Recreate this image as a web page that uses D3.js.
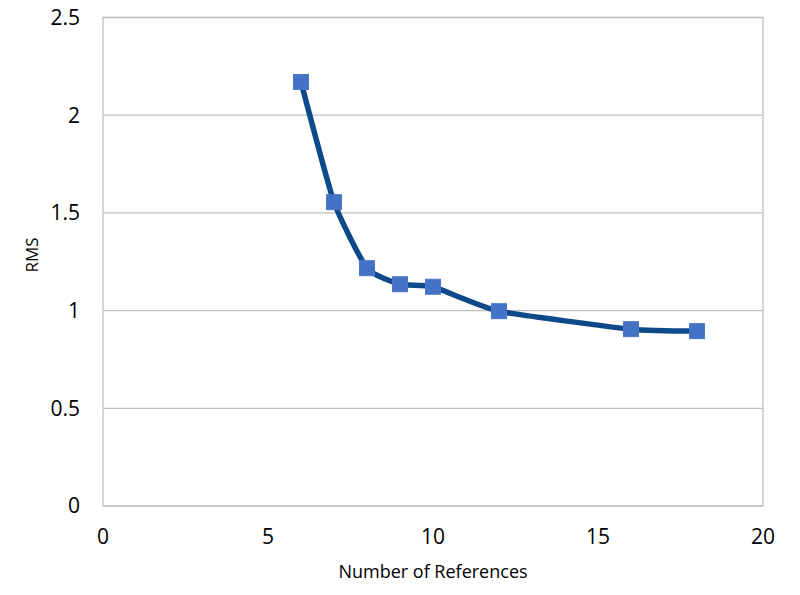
<!DOCTYPE html>
<html>
<head>
<meta charset="utf-8">
<script src="https://cdn.jsdelivr.net/npm/d3@7"></script>
<style>
  body { margin: 0; background: #fff; }
  text { font-family: "Open Sans", "Liberation Sans", sans-serif; fill: #000; }
</style>
</head>
<body>
<div id="chart"></div>
<script>
var refs = [6, 7, 8, 9, 10, 12, 16, 18];
var rms = [2.17, 1.555, 1.217, 1.135, 1.122, 0.997, 0.905, 0.895];
var xTicks = [0, 5, 10, 15, 20];
var yTicks = [0, 0.5, 1, 1.5, 2, 2.5];

var width = 800,
    height = 595,
    plotL = 103, plotR = 763, plotT = 17.5, plotB = 506;

var svg = d3.select("#chart").append("svg")
    .attr("width", width)
    .attr("height", height);

var x = d3.scaleLinear().domain([0, 20]).range([plotL, plotR]);
var y = d3.scaleLinear().domain([0, 2.5]).range([plotB, plotT]);

// gridlines
svg.append("g").selectAll("line")
    .data(yTicks)
  .enter().append("line")
    .attr("x1", plotL).attr("x2", plotR)
    .attr("y1", function(d) { return y(d); })
    .attr("y2", function(d) { return y(d); })
    .attr("stroke", "#c0c0c0")
    .attr("stroke-width", 1.3);

// plot border
svg.append("rect")
    .attr("x", plotL).attr("y", plotT)
    .attr("width", plotR - plotL).attr("height", plotB - plotT)
    .attr("fill", "none")
    .attr("stroke", "#c0c0c0")
    .attr("stroke-width", 1.3);

// tick labels
svg.append("g").selectAll("text")
    .data(yTicks)
  .enter().append("text")
    .attr("x", plotL - 23)
    .attr("y", function(d) { return y(d); })
    .attr("dy", "0.35em")
    .attr("text-anchor", "end")
    .style("font-size", "21px")
    .text(function(d) { return d; });

svg.append("g").selectAll("text")
    .data(xTicks)
  .enter().append("text")
    .attr("x", function(d) { return x(d); })
    .attr("y", plotB + 31)
    .attr("dy", "0.35em")
    .attr("text-anchor", "middle")
    .style("font-size", "21px")
    .text(function(d) { return d; });

// axis titles
svg.append("text")
    .attr("x", 433)
    .attr("y", 572)
    .attr("dy", "0.35em")
    .attr("text-anchor", "middle")
    .style("font-size", "18px")
    .text("Number of References");

svg.append("text")
    .attr("transform", "translate(32,255) rotate(-90)")
    .attr("dy", "0.35em")
    .attr("text-anchor", "middle")
    .style("font-size", "17px")
    .text("RMS");

// line
var pts = refs.map(function(d, i) { return [d, rms[i]]; });
var line = d3.line()
    .x(function(d) { return x(d[0]); })
    .y(function(d) { return y(d[1]); })
    .curve(d3.curveCardinal.tension(0.5));

svg.append("path")
    .datum(pts)
    .attr("d", line)
    .attr("fill", "none")
    .attr("stroke", "#0e4a8a")
    .attr("stroke-width", 5.5)
    .attr("stroke-linejoin", "round");

// markers
var s = 15;
svg.append("g").selectAll("rect")
    .data(pts)
  .enter().append("rect")
    .attr("x", function(d) { return x(d[0]) - s / 2; })
    .attr("y", function(d) { return y(d[1]) - s / 2; })
    .attr("width", s).attr("height", s)
    .attr("fill", "#4472c4")
    .attr("stroke", "#4a78cc")
    .attr("stroke-width", 1);
</script>
</body>
</html>
